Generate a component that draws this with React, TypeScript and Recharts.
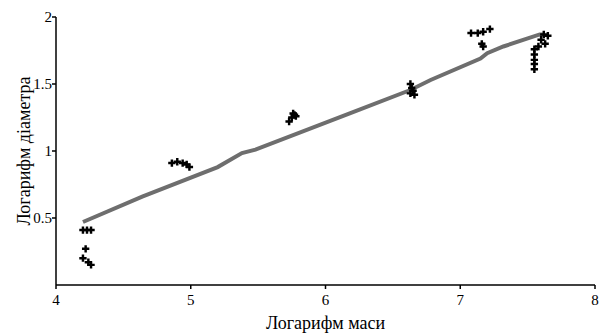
import { ComposedChart, Line, Scatter, XAxis, YAxis, ZAxis } from "recharts";

const xTicks = [4, 5, 6, 7, 8];
const yTicks = [0.5, 1, 1.5, 2];

const massLog = [
  4.2, 4.23, 4.26, 4.22, 4.2, 4.24, 4.26,
  4.86, 4.9, 4.94, 4.97, 4.99,
  5.73, 5.75, 5.77, 5.78, 5.76,
  6.63, 6.64, 6.65, 6.63, 6.66,
  7.08, 7.13, 7.17, 7.22, 7.16, 7.17,
  7.55, 7.55, 7.55, 7.55, 7.55,
  7.62, 7.65, 7.6, 7.63, 7.58,
];
const diamLog = [
  0.41, 0.41, 0.41, 0.27, 0.2, 0.17, 0.15,
  0.91, 0.92, 0.91, 0.9, 0.88,
  1.22, 1.25, 1.27, 1.26, 1.28,
  1.5, 1.47, 1.45, 1.43, 1.42,
  1.88, 1.88, 1.89, 1.91, 1.8, 1.78,
  1.76, 1.72, 1.68, 1.65, 1.61,
  1.87, 1.86, 1.83, 1.8, 1.78,
];

const trendX = [4.2, 4.64, 5.2, 5.38, 5.48, 6.18, 6.63, 6.78, 7.15, 7.2, 7.32, 7.59, 7.63];
const trendY = [0.47, 0.66, 0.88, 0.985, 1.01, 1.28, 1.455, 1.53, 1.69, 1.73, 1.78, 1.87, 1.87];

const points = massLog.map((x, i) => ({ x, y: diamLog[i] }));
const trend = trendX.map((x, i) => ({ x, y: trendY[i] }));

const font = "'Liberation Serif', 'Times New Roman', serif";

function XTick({ x, y, payload }: any) {
  return (
    <text x={x} y={y + 14} textAnchor="middle" fill="#000" fontSize={15} style={{ fontFamily: font }}>
      {payload.value}
    </text>
  );
}

function YTick({ x, y, payload }: any) {
  return (
    <text x={x + 2} y={y + 5} textAnchor="end" fill="#000" fontSize={15} style={{ fontFamily: font }}>
      {payload.value}
    </text>
  );
}

export default function App() {
  return (
    <div style={{ position: "absolute", left: 0, top: 0, background: "#fff", fontFamily: font }}>
      <ComposedChart
        width={599}
        height={333}
        margin={{ top: 17, right: 4, bottom: 0, left: 0 }}
      >
        <XAxis
          type="number"
          dataKey="x"
          domain={[4, 8]}
          ticks={xTicks}
          allowDataOverflow
          stroke="#000"
          strokeWidth={1.5}
          tickSize={4}
          height={48}
          tick={<XTick />}
          label={{
            value: "Логарифм маси",
            position: "insideBottom",
            offset: 4,
            fill: "#000",
            fontSize: 18,
            style: { fontFamily: font },
          }}
        />
        <YAxis
          type="number"
          dataKey="y"
          domain={[0, 2]}
          ticks={yTicks}
          allowDataOverflow
          stroke="#000"
          strokeWidth={1.5}
          tickSize={4}
          width={56}
          tick={<YTick />}
          label={{
            value: "Логарифм діаметра",
            angle: -90,
            position: "insideLeft",
            offset: 24,
            fill: "#000",
            fontSize: 18,
            style: { textAnchor: "middle", fontFamily: font },
          }}
        />
        <ZAxis range={[30, 30]} />
        <Line
          data={trend}
          dataKey="y"
          type="linear"
          stroke="#6e6e6e"
          strokeWidth={4}
          dot={false}
          activeDot={false}
          isAnimationActive={false}
        />
        <Scatter
          data={points}
          dataKey="y"
          fill="#000"
          shape="cross"
          isAnimationActive={false}
        />
      </ComposedChart>
    </div>
  );
}
